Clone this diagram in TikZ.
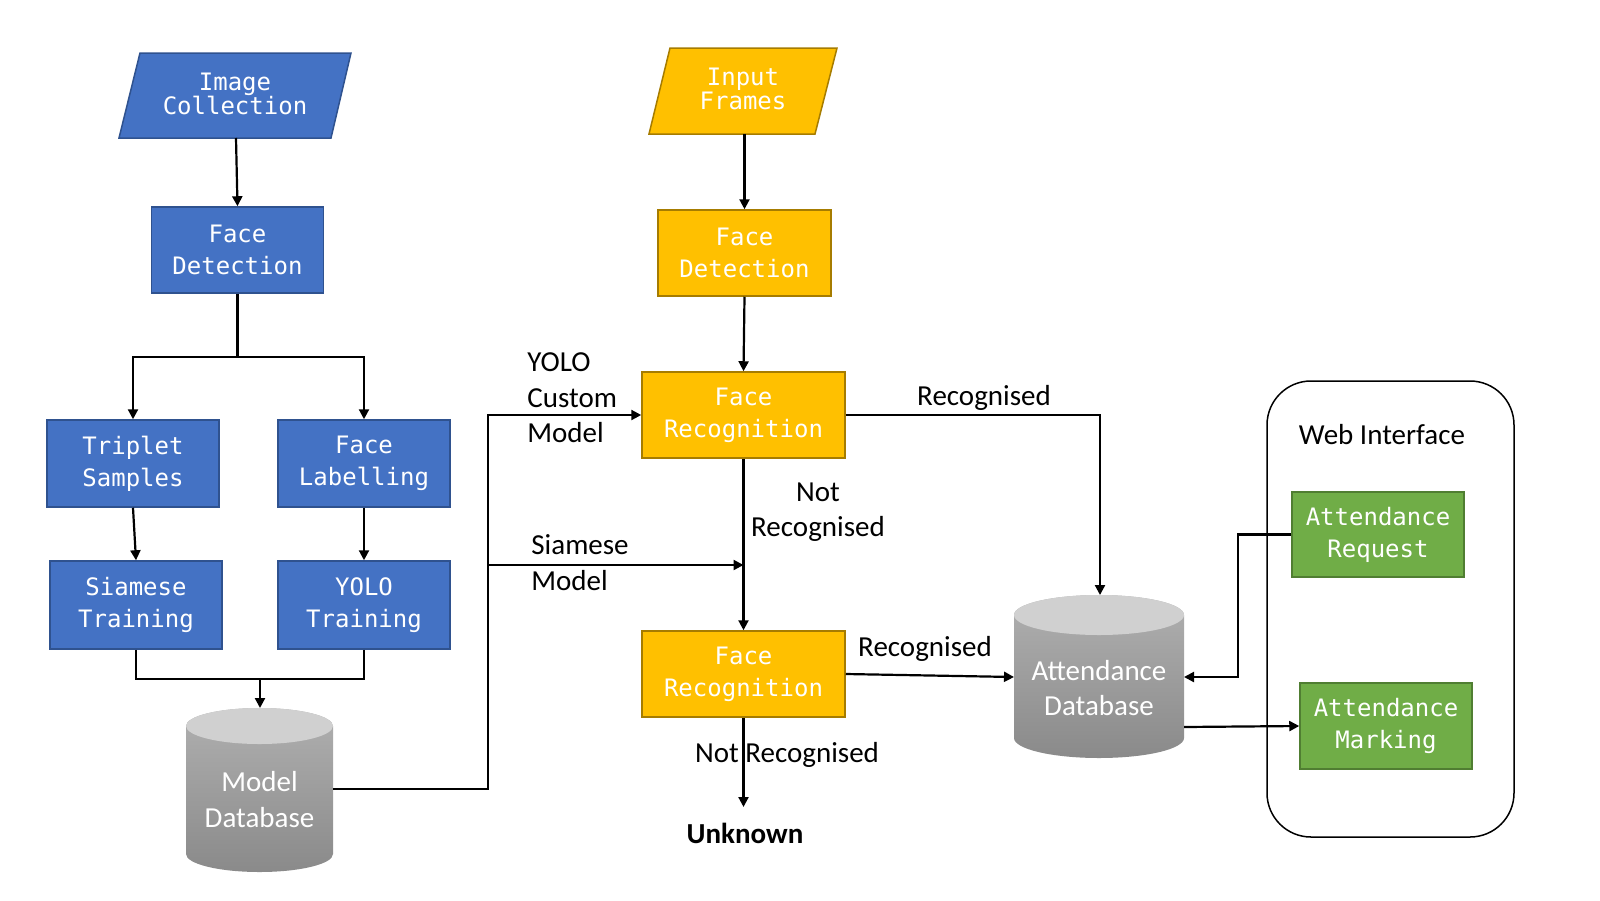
\documentclass[tikz,border=0pt]{standalone}
\usepackage{fontspec}
\setmainfont{Carlito}
\setmonofont{DejaVu Sans Mono}
\usetikzlibrary{arrows.meta}
\definecolor{bfill}{HTML}{4472C4}
\definecolor{bdraw}{HTML}{2F528F}
\definecolor{yfill}{HTML}{FFC000}
\definecolor{ydraw}{HTML}{A67C00}
\definecolor{gfill}{HTML}{70AD47}
\definecolor{gdraw}{HTML}{507E32}
\definecolor{cyltop}{HTML}{D0D0D0}
\definecolor{cylhi}{HTML}{B0B0B0}
\definecolor{cyllo}{HTML}{8A8A8A}
\begin{document}
\begin{tikzpicture}[x=0.5pt,y=0.5pt,
  box/.style={draw, line width=0.75pt, font=\ttfamily\fontsize{12}{16}\selectfont, text=white, align=center, inner sep=0pt},
  bluebox/.style={box, fill=bfill, draw=bdraw},
  yelbox/.style={box, fill=yfill, draw=ydraw},
  grnbox/.style={box, fill=gfill, draw=gdraw},
  ptext/.style={font=\ttfamily\fontsize{12}{12}\selectfont, text=white, align=center, inner sep=0pt},
  cyltext/.style={font=\fontsize{14.5}{18}\selectfont, text=white, align=center, inner sep=0pt},
  lbl/.style={font=\fontsize{14.5}{17.75}\selectfont, align=left, inner sep=0pt},
  conn/.style={line width=1.1pt},
  arr/.style={conn, -{Triangle[length=5pt,width=5pt]}}]
\useasboundingbox (0,0) rectangle (1600,-900);

% ---------- left column ----------
\draw[fill=bfill, draw=bdraw, line width=0.75pt] (140,-53) -- (351,-53) -- (331,-138) -- (119,-138) -- cycle;
\node[ptext] (ic) at (235,-94) {Image\\Collection};
\coordinate (icb) at (236,-138);

\node[bluebox, minimum width=86pt, minimum height=43pt] (fd1) at (237.5,-250) {Face\\Detection};
\node[bluebox, minimum width=86pt, minimum height=43.5pt] (trip) at (133,-463.5) {Triplet\\Samples};
\node[bluebox, minimum width=86pt, minimum height=43.5pt] (lab) at (364,-463.5) {Face\\Labelling};
\node[bluebox, minimum width=86pt, minimum height=44pt] (siam) at (136,-605) {Siamese\\Training};
\node[bluebox, minimum width=86pt, minimum height=44pt] (yolo) at (364,-605) {YOLO\\Training};

% Model database cylinder
\shade[top color=cylhi, bottom color=cyllo] (186,-726) -- (186,-854)
  arc[start angle=180, end angle=360, x radius=73.5, y radius=18] -- (333,-726)
  arc[start angle=0, end angle=180, x radius=73.5, y radius=18] -- cycle;
\fill[cyltop] (259.5,-726) ellipse[x radius=73.5, y radius=18];
\node[cyltext] (mdb) at (259.5,-800) {Model\\Database};
\coordinate (mdbtop) at (260,-708);
\coordinate (mdbright) at (333,-789);

% ---------- middle column ----------
\draw[fill=yfill, draw=ydraw, line width=0.75pt] (670,-48) -- (837,-48) -- (815,-134) -- (649,-134) -- cycle;
\node[ptext] (if) at (743,-89) {Input\\Frames};
\coordinate (ifb) at (744.5,-134);

\node[yelbox, minimum width=86.5pt, minimum height=43pt] (fd2) at (744.5,-253) {Face\\Detection};
\node[yelbox, minimum width=101.5pt, minimum height=43pt] (fr1) at (743.5,-415) {Face\\Recognition};
\node[yelbox, minimum width=101.5pt, minimum height=43pt] (fr2) at (743.5,-674) {Face\\Recognition};
\node[font=\bfseries\fontsize{14.5}{17}\selectfont, inner sep=0pt] (unk) at (745,-833) {Unknown};
\coordinate (unkarr) at (743.5,-807);

% Attendance database cylinder
\shade[top color=cylhi, bottom color=cyllo] (1014,-615) -- (1014,-738)
  arc[start angle=180, end angle=360, x radius=85, y radius=20] -- (1184,-615)
  arc[start angle=0, end angle=180, x radius=85, y radius=20] -- cycle;
\fill[cyltop] (1099,-615) ellipse[x radius=85, y radius=20];
\node[cyltext, font=\fontsize{14.5}{17.5}\selectfont] (adb) at (1099,-688) {Attendance\\Database};
\coordinate (adbtop) at (1100,-595);
\coordinate (adbleft) at (1014,-677);
\coordinate (adbr1) at (1184,-677);
\coordinate (adbr2) at (1184,-727);

% ---------- web interface ----------
\node[draw, line width=0.75pt, rounded corners=22pt, minimum width=123.5pt, minimum height=228pt, inner sep=0pt] (web) at (1390.5,-609) {};
\node[font=\fontsize{14.5}{17}\selectfont, inner sep=0pt] (webl) at (1382,-435) {Web Interface};
\node[grnbox, minimum width=86pt, minimum height=42.5pt] (ar) at (1378,-534.5) {Attendance\\Request};
\node[grnbox, minimum width=86pt, minimum height=43pt] (am) at (1386,-726) {Attendance\\Marking};

% ---------- labels ----------
\node[lbl, anchor=west] (lyolo) at (527,-398) {YOLO\\Custom\\Model};
\node[lbl, anchor=west, font=\fontsize{14.5}{18}\selectfont] (lsiam) at (531,-563) {Siamese\\Model};
\node[lbl, align=center] (lnr1) at (818,-512) {Not\\Recognised};
\node[lbl] (lrec1) at (984,-398) {Recognised};
\node[lbl] (lrec2) at (925,-649) {Recognised};
\node[lbl] (lnr2) at (787,-755) {Not Recognised};

% ---------- connectors ----------
\draw[arr] (icb) -- (fd1.north);
\draw[conn] (fd1.south) -- (237.5,-357) coordinate (br1);
\draw[arr] (br1) -| (trip.north);
\draw[arr] (br1) -| (lab.north);
\draw[arr] (trip.south) -- (siam.north);
\draw[arr] (lab.south) -- (yolo.north);
\draw[conn] (siam.south) |- (260,-679) coordinate (mg);
\draw[conn] (yolo.south) |- (mg);
\draw[arr] (mg) -- (mdbtop);

\coordinate (j1) at (488,-565);
\draw[arr] (mdbright) -| (j1) |- (fr1.west);
\draw[arr] (j1) -- (j1 -| fr1.south);

\draw[arr] (ifb) -- (fd2.north);
\draw[arr] (fd2.south) -- (fr1.north);
\draw[arr] (fr1.south) -- (fr2.north);
\draw[arr] (fr1.east) -| (adbtop);
\draw[arr] (fr2.east) -- (adbleft);
\draw[arr] (fr2.south) -- (unkarr);
\draw[arr] (ar.west) -- ++(-53,0) |- (adbr1);
\draw[arr] (adbr2) -- (am.west);
\end{tikzpicture}
\end{document}
